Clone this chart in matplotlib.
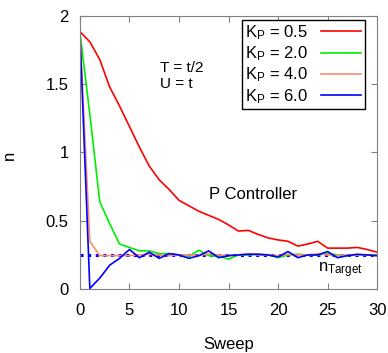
import numpy as np
import matplotlib
matplotlib.use("Agg")
import matplotlib.pyplot as plt

plt.rcParams['font.family'] = ['Liberation Sans', 'DejaVu Sans']
plt.rcParams['mathtext.fontset'] = 'custom'
plt.rcParams['mathtext.rm'] = 'Liberation Sans'
plt.rcParams['mathtext.it'] = 'Liberation Sans'

sweep = np.arange(0, 31)
n_kp05 = [1.885, 1.81, 1.68, 1.48, 1.34, 1.19, 1.04, 0.90, 0.80, 0.73, 0.65,
          0.61, 0.57, 0.54, 0.51, 0.47, 0.425, 0.43, 0.40, 0.375, 0.36,
          0.35, 0.315, 0.33, 0.35, 0.30, 0.30, 0.30, 0.305, 0.29, 0.27]
n_kp20 = [1.88, 1.28, 0.64, 0.48, 0.33, 0.305, 0.28, 0.28, 0.26, 0.26, 0.25,
          0.24, 0.285, 0.245, 0.24, 0.22, 0.25, 0.25, 0.255, 0.25, 0.23,
          0.25, 0.255, 0.25, 0.25, 0.26, 0.25, 0.245, 0.25, 0.25, 0.25]
n_kp40 = [1.88, 0.35, 0.245, 0.245, 0.245, 0.245, 0.25, 0.255, 0.25, 0.245, 0.25,
          0.25, 0.245, 0.26, 0.25, 0.245, 0.25, 0.26, 0.25, 0.25, 0.245,
          0.255, 0.25, 0.25, 0.26, 0.25, 0.245, 0.25, 0.25, 0.25, 0.245]
n_kp60 = [1.88, 0.005, 0.08, 0.175, 0.225, 0.29, 0.23, 0.27, 0.225, 0.26, 0.25,
          0.225, 0.245, 0.28, 0.23, 0.245, 0.25, 0.255, 0.255, 0.25, 0.235,
          0.275, 0.23, 0.25, 0.25, 0.275, 0.23, 0.245, 0.255, 0.25, 0.245]
n_target = 0.25
labels = [r'K$_\mathrm{P}$ = 0.5', r'K$_\mathrm{P}$ = 2.0',
          r'K$_\mathrm{P}$ = 4.0', r'K$_\mathrm{P}$ = 6.0']

fig = plt.figure(figsize=(3.88, 3.53), dpi=100)
ax = fig.add_axes([0.206, 0.181, 0.766, 0.774])

ax.plot([0, 30], [n_target, n_target], color='#0000ff', lw=2.2, ls=(0, (1, 1.5)))
ax.plot(sweep, n_kp05, color='#ff0000', lw=1.2, label=labels[0])
ax.plot(sweep, n_kp20, color='#00ee00', lw=1.2, label=labels[1])
ax.plot(sweep, n_kp40, color='#ff8c69', lw=1.2, label=labels[2])
ax.plot(sweep, n_kp60, color='#0000ff', lw=1.2, label=labels[3])

ax.set_xlim(0, 30)
ax.set_ylim(0, 2)
ax.set_xticks([0, 5, 10, 15, 20, 25, 30])
ax.set_yticks([0, 0.5, 1, 1.5, 2])
ax.set_yticklabels(['0', '0.5', '1', '1.5', '2'])
ax.tick_params(direction='in', length=4, color='#808080', labelsize=12,
               top=True, right=True)
ax.tick_params(axis='x', pad=10)
ax.tick_params(axis='y', pad=8)
for s in ax.spines.values():
    s.set_color('#808080')

ax.set_xlabel('Sweep', fontsize=12, labelpad=14)
ax.set_ylabel('n', fontsize=12)
ax.yaxis.set_label_coords(-0.212, 0.49)

ax.text(8.1, 1.59, 'T = t/2', fontsize=11)
ax.text(8.1, 1.47, 'U = t', fontsize=11)
ax.text(13.0, 0.66, 'P Controller', fontsize=12)
ax.text(24.0, 0.12, r'n$_\mathrm{Target}$', fontsize=12)

leg = ax.legend(loc='upper right', bbox_to_anchor=(0.958, 0.985), fontsize=12,
                markerfirst=False, fancybox=False, framealpha=1,
                edgecolor='black', handlelength=2.4, borderpad=0.2,
                labelspacing=0.15, handletextpad=0.8, borderaxespad=0)
leg.get_frame().set_linewidth(1.0)

fig.savefig('out.png', dpi=100)
